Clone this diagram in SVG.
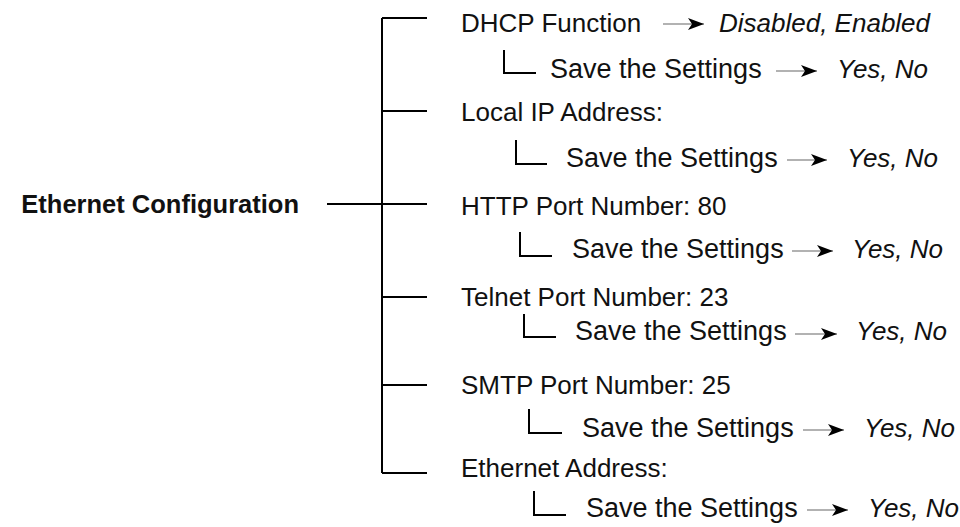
<svg xmlns="http://www.w3.org/2000/svg" width="960" height="527" viewBox="0 0 960 527">
<defs>
<style>
.t{font-family:"Liberation Sans",Arial,sans-serif;font-size:26px;fill:#111}
.s{font-size:27px}
.i{font-style:italic}
.b{font-weight:bold;font-size:25.5px}
.ln{stroke:#000;stroke-width:2;fill:none}
.ar{stroke:#999;stroke-width:1.5;fill:none}
</style>
<marker id="ah" markerUnits="userSpaceOnUse" markerWidth="18" markerHeight="14" refX="16" refY="6" orient="auto">
<path d="M0,0 L16,6 L0,12 L4,6 Z" fill="#000"/>
</marker>
</defs>
<g id="connectors">
<path class="ln" d="M327,204 H382 M382,18 V473 M382,18 H427 M382,111 H427 M382,204 H427 M382,297 H427 M382,385 H427 M382,473 H427"/>
<path class="ln" d="M504,50 V73 H536 M516,140 V164 H547 M520,232 V256 H552 M524,314 V337 H556 M529,409 V433 H562 M534,491 V515 H566"/>
<line class="ar" x1="663" y1="24" x2="704" y2="24" marker-end="url(#ah)"/>
<line class="ar" x1="776" y1="71" x2="817" y2="71" marker-end="url(#ah)"/>
<line class="ar" x1="787" y1="160" x2="827" y2="160" marker-end="url(#ah)"/>
<line class="ar" x1="792" y1="251" x2="833" y2="251" marker-end="url(#ah)"/>
<line class="ar" x1="795" y1="334" x2="837" y2="334" marker-end="url(#ah)"/>
<line class="ar" x1="803" y1="430" x2="844" y2="430" marker-end="url(#ah)"/>
<line class="ar" x1="807" y1="510" x2="848" y2="510" marker-end="url(#ah)"/>
</g>
<g id="root"><text class="t b" x="299" y="213" text-anchor="end">Ethernet Configuration</text></g>
<g id="dhcp"><text class="t" x="461" y="31.5">DHCP Function</text><text class="t i" x="719" y="31.5">Disabled, Enabled</text></g>
<g id="dhcp-save"><text class="t s" x="550" y="78">Save the Settings</text><text class="t i" x="837" y="78">Yes, No</text></g>
<g id="localip"><text class="t" x="461" y="120.5">Local IP Address:</text></g>
<g id="localip-save"><text class="t s" x="566" y="167">Save the Settings</text><text class="t i" x="847" y="167">Yes, No</text></g>
<g id="http"><text class="t" x="461" y="215">HTTP Port Number: 80</text></g>
<g id="http-save"><text class="t s" x="572" y="258">Save the Settings</text><text class="t i" x="852" y="258">Yes, No</text></g>
<g id="telnet"><text class="t" x="461" y="306">Telnet Port Number: 23</text></g>
<g id="telnet-save"><text class="t s" x="575" y="340">Save the Settings</text><text class="t i" x="856" y="340">Yes, No</text></g>
<g id="smtp"><text class="t" x="461" y="394">SMTP Port Number: 25</text></g>
<g id="smtp-save"><text class="t s" x="582" y="437">Save the Settings</text><text class="t i" x="864" y="437">Yes, No</text></g>
<g id="ethaddr"><text class="t" x="461" y="477">Ethernet Address:</text></g>
<g id="ethaddr-save"><text class="t s" x="586" y="517">Save the Settings</text><text class="t i" x="868" y="517">Yes, No</text></g>
</svg>
